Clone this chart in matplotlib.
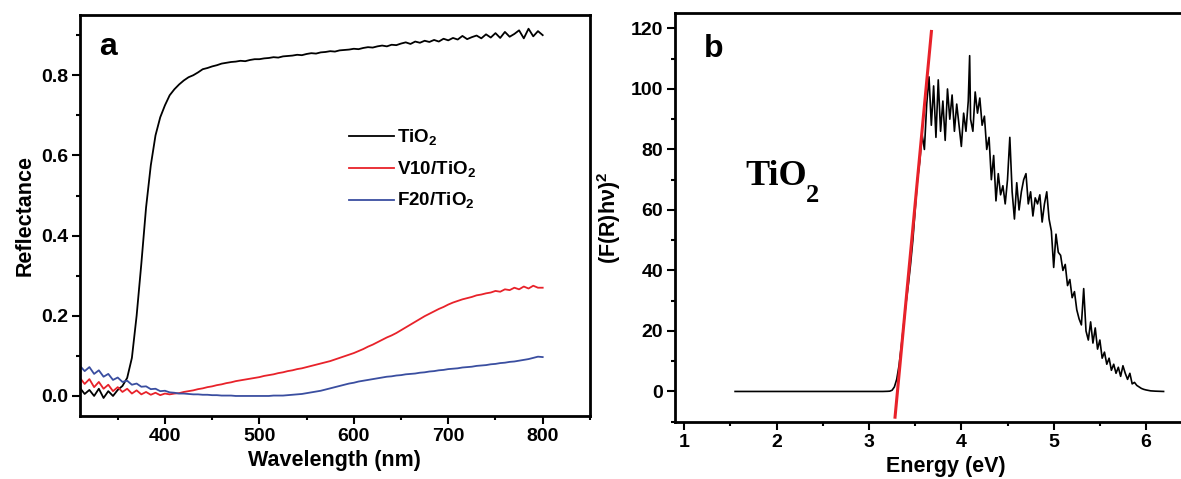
import numpy as np
import matplotlib
matplotlib.use("Agg")
import matplotlib.pyplot as plt
from matplotlib.ticker import MultipleLocator

plt.rcParams['font.family'] = ['Liberation Sans', 'DejaVu Sans']
plt.rcParams['font.weight'] = 'bold'
plt.rcParams['mathtext.fontset'] = 'custom'
plt.rcParams['mathtext.rm'] = 'Liberation Sans:bold'
plt.rcParams['mathtext.bf'] = 'Liberation Sans:bold'

# ---- panel a : reflectance spectra (every 5 nm)
wavelength = np.arange(310, 801, 5)

refl_tio2 = [
    0.020, 0.005, 0.015, 0.000, 0.018, -0.005, 0.012, 0.000, 0.015, 0.025,
    0.045, 0.095, 0.200, 0.330, 0.470, 0.575, 0.650, 0.695, 0.725, 0.750,
    0.765, 0.777, 0.787, 0.795, 0.800, 0.807, 0.815, 0.818, 0.822, 0.825,
    0.829, 0.831, 0.833, 0.834, 0.836, 0.835, 0.838, 0.840, 0.840, 0.842,
    0.843, 0.845, 0.844, 0.847, 0.848, 0.849, 0.851, 0.850, 0.853, 0.855,
    0.854, 0.857, 0.858, 0.860, 0.859, 0.862, 0.863, 0.864, 0.866, 0.865,
    0.868, 0.870, 0.869, 0.872, 0.874, 0.872, 0.876, 0.875, 0.879, 0.882,
    0.878, 0.884, 0.881, 0.886, 0.883, 0.888, 0.884, 0.891, 0.887, 0.893,
    0.889, 0.898, 0.890, 0.895, 0.899, 0.892, 0.902, 0.894, 0.905, 0.893,
    0.908, 0.896, 0.903, 0.912, 0.892, 0.916, 0.897, 0.910, 0.900,
]

refl_v10 = [
    0.045, 0.030, 0.042, 0.022, 0.035, 0.018, 0.028, 0.012, 0.022, 0.010,
    0.018, 0.006, 0.014, 0.004, 0.010, 0.003, 0.008, 0.002, 0.006, 0.004,
    0.006, 0.007, 0.010, 0.012, 0.014, 0.017, 0.019, 0.022, 0.024, 0.027,
    0.029, 0.032, 0.034, 0.037, 0.039, 0.041, 0.043, 0.045, 0.047, 0.050,
    0.052, 0.054, 0.057, 0.059, 0.062, 0.064, 0.067, 0.069, 0.072, 0.075,
    0.078, 0.081, 0.084, 0.087, 0.091, 0.095, 0.099, 0.103, 0.107, 0.112,
    0.117, 0.123, 0.128, 0.134, 0.140, 0.146, 0.151, 0.157, 0.164, 0.171,
    0.178, 0.185, 0.192, 0.199, 0.205, 0.211, 0.217, 0.222, 0.228, 0.233,
    0.237, 0.241, 0.244, 0.247, 0.251, 0.253, 0.256, 0.258, 0.262, 0.260,
    0.266, 0.264, 0.270, 0.266, 0.273, 0.268, 0.275, 0.270, 0.270,
]

refl_f20 = [
    0.075, 0.062, 0.072, 0.055, 0.064, 0.048, 0.055, 0.040, 0.046, 0.035,
    0.038, 0.028, 0.031, 0.023, 0.024, 0.017, 0.018, 0.012, 0.013, 0.009,
    0.008, 0.006, 0.006, 0.005, 0.004, 0.004, 0.003, 0.003, 0.002, 0.002,
    0.001, 0.001, 0.001, 0.000, 0.000, 0.000, 0.000, 0.000, 0.000, 0.000,
    0.000, 0.001, 0.001, 0.001, 0.002, 0.003, 0.004, 0.005, 0.007, 0.009,
    0.011, 0.013, 0.016, 0.019, 0.022, 0.025, 0.028, 0.031, 0.033, 0.036,
    0.038, 0.040, 0.042, 0.044, 0.046, 0.048, 0.049, 0.051, 0.052, 0.054,
    0.055, 0.056, 0.058, 0.059, 0.061, 0.062, 0.064, 0.065, 0.067, 0.068,
    0.069, 0.071, 0.072, 0.073, 0.075, 0.076, 0.077, 0.079, 0.080, 0.082,
    0.083, 0.085, 0.086, 0.088, 0.090, 0.092, 0.095, 0.098, 0.097,
]

labels_a = [r'TiO$_\mathbf{2}$', r'V10/TiO$_\mathbf{2}$', r'F20/TiO$_\mathbf{2}$']
colors_a = ['black', '#e8222a', '#3a4ea0']

# ---- panel b : Tauc plot
energy = [1.55, 2.0, 2.5, 3.0, 3.15, 3.2, 3.225, 3.25, 3.275, 3.3, 3.325, 3.35,
          3.375, 3.4, 3.425, 3.45, 3.475, 3.5, 3.525, 3.55, 3.575, 3.6, 3.625,
          3.65, 3.675, 3.7, 3.725, 3.75, 3.775, 3.8, 3.825, 3.85, 3.875, 3.9,
          3.925, 3.95, 3.975, 4.0, 4.025, 4.05, 4.075, 4.09, 4.1, 4.125, 4.15,
          4.175, 4.2, 4.225, 4.25, 4.275, 4.3, 4.325, 4.35, 4.375, 4.4, 4.425,
          4.45, 4.475, 4.5, 4.525, 4.55, 4.575, 4.6, 4.625, 4.65, 4.675, 4.7,
          4.725, 4.75, 4.775, 4.8, 4.825, 4.85, 4.875, 4.9, 4.925, 4.95, 4.975,
          5.0, 5.025, 5.05, 5.075, 5.1, 5.125, 5.15, 5.175, 5.2, 5.225, 5.25,
          5.275, 5.3, 5.325, 5.35, 5.375, 5.4, 5.425, 5.45, 5.475, 5.5, 5.525,
          5.55, 5.575, 5.6, 5.625, 5.65, 5.675, 5.7, 5.725, 5.75, 5.775, 5.8,
          5.825, 5.85, 5.875, 5.9, 5.925, 5.95, 5.975, 6.0, 6.05, 6.1, 6.19]

fr_hv2 = [0.0, 0.0, 0.0, 0.0, 0.0, 0.05, 0.1, 0.4, 1.5, 4.0, 8.5, 15,
          22, 29, 35, 42, 50, 60, 70, 76, 85, 80, 95,
          104, 88, 101, 84, 103, 86, 96, 83, 100, 90, 98,
          86, 95, 88, 81, 92, 86, 96, 111, 90, 86, 99,
          92, 97, 88, 91, 80, 84, 70, 78, 63, 72, 65,
          68, 62, 70, 84, 66, 57, 69, 60, 66, 70, 72,
          62, 66, 58, 64, 62, 65, 56, 62, 66, 57, 53,
          41, 52, 46, 45, 40, 42, 35, 37, 31, 33, 27,
          24, 22, 34, 20, 17, 23, 16, 21, 14, 17, 11,
          13, 9, 11, 7, 9, 6, 8, 5, 8.5, 6, 4,
          6, 2.5, 3, 2, 1.5, 1, 0.7, 0.5, 0.2, 0.1, 0.0]

fit_energy = [3.282, 3.676]
fit_value = [-8.5, 119]

fig = plt.figure(figsize=(11.81, 4.79), dpi=100)
ax1 = fig.add_axes([0.0677, 0.1315, 0.4318, 0.837])
# right part of panel b runs off the figure edge, as in the source
ax2 = fig.add_axes([0.5716, 0.1196, 0.459, 0.8526])

for ax in (ax1, ax2):
    for s in ax.spines.values():
        s.set_linewidth(2)
    ax.tick_params(which='major', direction='out', length=5.5, width=1.5,
                   labelsize=14, pad=3)
    ax.tick_params(which='minor', direction='out', length=3, width=1.5)

series = [refl_tio2, refl_v10, refl_f20]
for vals, lab, col in zip(series, labels_a, colors_a):
    ax1.plot(wavelength, vals, color=col, lw=1.3, label=lab)

ax1.set_xlim(310, 850)
ax1.set_ylim(-0.05, 0.95)
ax1.set_xticks([400, 500, 600, 700, 800])
ax1.xaxis.set_minor_locator(MultipleLocator(50))
ax1.yaxis.set_major_locator(MultipleLocator(0.2))
ax1.yaxis.set_minor_locator(MultipleLocator(0.1))
ax1.set_xlabel('Wavelength (nm)', fontsize=15.5, fontweight='bold', labelpad=4)
ax1.set_ylabel('Reflectance', fontsize=15.5, fontweight='bold', labelpad=4)
ax1.text(0.037, 0.90, 'a', transform=ax1.transAxes, fontsize=23,
         fontweight='bold')
ax1.legend(loc='upper left', bbox_to_anchor=(0.528, 0.72), frameon=False,
           fontsize=13.5, handlelength=2.4, handletextpad=0.15,
           labelspacing=0.62, borderpad=0, borderaxespad=0)

ax2.plot(energy, fr_hv2, color='black', lw=1.2)
ax2.plot(fit_energy, fit_value, color='#e8222a', lw=2.2)
ax2.set_xlim(0.9, 6.77)
ax2.set_ylim(-10, 125)
ax2.xaxis.set_major_locator(MultipleLocator(1))
ax2.xaxis.set_minor_locator(MultipleLocator(0.5))
ax2.yaxis.set_major_locator(MultipleLocator(20))
ax2.yaxis.set_minor_locator(MultipleLocator(10))
ax2.set_xlabel('Energy (eV)', fontsize=15.5, fontweight='bold', labelpad=4)
ax2.set_ylabel(r'(F(R)hν)$^\mathbf{2}$', fontsize=15.5, fontweight='bold',
               labelpad=6)
ax2.text(0.054, 0.893, 'b', transform=ax2.transAxes, fontsize=23,
         fontweight='bold')
ax2.text(1.66, 68.3, 'TiO', fontsize=26, fontweight='bold',
         family='Liberation Serif')
ax2.text(2.32, 62.5, '2', fontsize=19, fontweight='bold',
         family='Liberation Serif')

for ax in (ax1, ax2):
    for lab in ax.get_xticklabels() + ax.get_yticklabels():
        lab.set_fontweight('bold')

fig.savefig('out.png', dpi=100)
